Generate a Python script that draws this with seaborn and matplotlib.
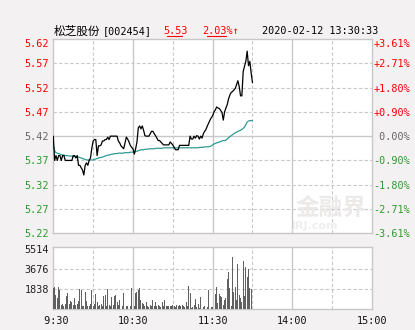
import numpy as np
import pandas as pd
import seaborn as sns
import matplotlib
matplotlib.use("Agg")
import matplotlib.pyplot as plt
from matplotlib.lines import Line2D

# ---------------- data ----------------
title_name = "松芝股份"
title_code = "[002454]"
last_price = "5.53"
change_pct = "2.03%↑"
timestamp = "2020-02-12 13:30:33"

price = [
    5.420, 5.370, 5.380, 5.370, 5.380, 5.380, 5.370, 5.380, 5.380, 5.370,
    5.370, 5.370, 5.370, 5.370, 5.370, 5.380, 5.380, 5.375, 5.380, 5.360,
    5.360, 5.355, 5.350, 5.340, 5.360, 5.365, 5.360, 5.370, 5.375, 5.395,
    5.410, 5.413, 5.413, 5.380, 5.400, 5.400, 5.402, 5.410, 5.410, 5.413,
    5.413, 5.418, 5.413, 5.420, 5.420, 5.420, 5.420, 5.420, 5.420, 5.410,
    5.406, 5.400, 5.397, 5.394, 5.406, 5.418, 5.414, 5.408, 5.401, 5.397,
    5.394, 5.383, 5.394, 5.408, 5.437, 5.441, 5.435, 5.441, 5.432, 5.421,
    5.420, 5.420, 5.420, 5.425, 5.430, 5.430, 5.425, 5.421, 5.416, 5.411,
    5.411, 5.408, 5.405, 5.402, 5.402, 5.402, 5.402, 5.402, 5.408, 5.405,
    5.402, 5.397, 5.392, 5.392, 5.392, 5.401, 5.401, 5.401, 5.401, 5.401,
    5.401, 5.401, 5.401, 5.420, 5.414, 5.414, 5.420, 5.416, 5.421, 5.420,
    5.414, 5.420, 5.416, 5.425, 5.430, 5.434, 5.441, 5.447, 5.453, 5.458,
    5.462, 5.470, 5.474, 5.480, 5.478, 5.477, 5.473, 5.469, 5.453, 5.470,
    5.478, 5.485, 5.497, 5.505, 5.510, 5.512, 5.515, 5.518, 5.526, 5.534,
    5.522, 5.503, 5.503, 5.553, 5.564, 5.574, 5.595, 5.565, 5.574, 5.550,
    5.530,
]

avg_price = [
    5.402, 5.390, 5.386, 5.385, 5.384, 5.383, 5.382, 5.381, 5.381, 5.380,
    5.380, 5.380, 5.379, 5.379, 5.379, 5.378, 5.378, 5.378, 5.378, 5.377,
    5.376, 5.375, 5.374, 5.373, 5.372, 5.371, 5.371, 5.371, 5.371, 5.371,
    5.371, 5.372, 5.373, 5.374, 5.375, 5.376, 5.376, 5.377, 5.378, 5.379,
    5.380, 5.381, 5.381, 5.382, 5.383, 5.383, 5.384, 5.384, 5.384, 5.385,
    5.385, 5.385, 5.385, 5.385, 5.386, 5.386, 5.386, 5.386, 5.387, 5.387,
    5.387, 5.387, 5.388, 5.389, 5.390, 5.391, 5.392, 5.392, 5.392, 5.393,
    5.393, 5.393, 5.394, 5.394, 5.394, 5.394, 5.394, 5.395, 5.395, 5.395,
    5.395, 5.395, 5.395, 5.396, 5.396, 5.396, 5.396, 5.396, 5.396, 5.396,
    5.396, 5.396, 5.396, 5.396, 5.396, 5.396, 5.396, 5.396, 5.396, 5.396,
    5.396, 5.396, 5.396, 5.396, 5.396, 5.396, 5.396, 5.396, 5.396, 5.396,
    5.397, 5.397, 5.397, 5.397, 5.398, 5.398, 5.398, 5.398, 5.399, 5.400,
    5.402, 5.404, 5.405, 5.406, 5.407, 5.408, 5.409, 5.410, 5.411, 5.411,
    5.412, 5.414, 5.417, 5.419, 5.421, 5.423, 5.425, 5.427, 5.428, 5.430,
    5.431, 5.432, 5.434, 5.436, 5.439, 5.444, 5.449, 5.451, 5.452, 5.452,
    5.452,
]

volume = [
    1950, 2050, 1300, 1000, 2050, 1700, 400, 500, 300, 450,
    1200, 1500, 500, 700, 600, 350, 1050, 400, 500, 750,
    1850, 1700, 300, 300, 1550, 700, 300, 300, 500, 1700,
    250, 500, 1400, 600, 300, 400, 500, 300, 1200, 1250,
    300, 1850, 400, 250, 1100, 350, 1150, 1250, 600, 400,
    800, 670, 300, 1440, 430, 250, 250, 400, 250, 1960,
    1130, 300, 1440, 1530, 1750, 1900, 830, 520, 430, 300,
    670, 250, 200, 400, 250, 830, 300, 670, 250, 400,
    300, 200, 670, 300, 830, 300, 250, 300, 300, 250,
    400, 300, 200, 350, 300, 400, 250, 350, 300, 200,
    610, 250, 2100, 1440, 120, 200, 350, 900, 200, 430,
    120, 1130, 280, 200, 280, 280, 200, 1750, 200, 150,
    150, 5514, 1350, 2050, 520, 1350, 1230, 1130, 370, 830,
    1040, 2750, 3370, 1900, 300, 4800, 1590, 2050, 830, 4100,
    1290, 980, 670, 4400, 1200, 3900, 2900, 3700, 1900, 1800,
]

price_ticks = [5.22, 5.27, 5.32, 5.37, 5.42, 5.47, 5.52, 5.57, 5.62]
price_tick_labels = ["5.22", "5.27", "5.32", "5.37", "5.42", "5.47", "5.52", "5.57", "5.62"]
pct_tick_labels = ["-3.61%", "-2.71%", "-1.80%", "-0.90%", " 0.00%", "+0.90%", "+1.80%", "+2.71%", "+3.61%"]
prev_close = 5.42
vol_ticks = [1838, 3676, 5514]
vol_tick_labels = ["1838", "3676", "5514"]
time_ticks = [0, 60, 120, 180, 240]
time_tick_labels = [" 9:30", "10:30", "11:30", "14:00", "15:00"]

# ---------------- style ----------------
sns.set_style("white")
plt.rcParams["font.family"] = ["DejaVu Sans Mono", "Noto Sans CJK SC"]
plt.rcParams["axes.unicode_minus"] = False

BG = "#F3F1F1"
GRID = "#C8C8C8"
RED = "#FF0000"
GREEN = "#2E9A2E"
GRAY = "#666666"
FS = 7.3

fig = plt.figure(figsize=(4.15, 3.30), dpi=100, facecolor=BG)
W, H = 415.0, 330.0
ax = fig.add_axes([53.3 / W, 1 - 233.3 / H, (372 - 53.3) / W, (233.3 - 39) / H])
axv = fig.add_axes([53.3 / W, 1 - 309 / H, (372 - 53.3) / W, (309 - 247.3) / H])

minutes_p = np.arange(len(price))
dfp = pd.DataFrame({"minute": minutes_p, "price": price, "avg": avg_price})
minutes_v = np.arange(len(volume))
dfv = pd.DataFrame({"minute": minutes_v, "volume": volume})

for a in (ax, axv):
    a.set_facecolor("white")
    for s in a.spines.values():
        s.set_color(GRID)
        s.set_linewidth(1.0)
    a.set_xlim(0, 240)
    for t in [30, 90, 150, 210]:
        a.axvline(t, color=GRID, lw=0.8, ls=(0, (3, 2)), zorder=0)
    for t in [60, 120, 180]:
        a.axvline(t, color=GRID, lw=1.0, zorder=0)

# price panel
ax.set_ylim(5.22, 5.62)
for v in price_ticks[1:-1]:
    if abs(v - prev_close) < 1e-9:
        ax.axhline(v, color=GRID, lw=1.0, zorder=0)
    else:
        ax.axhline(v, color=GRID, lw=0.8, ls=(0, (3, 2)), zorder=0)

# watermark
ax.text(0.87, 0.13, "金融界", transform=ax.transAxes, ha="center", va="center",
        fontsize=17, color="#ECE9E9", family=["Noto Sans CJK SC"], fontweight="bold", zorder=1)
ax.text(0.82, 0.04, "JRJ.com", transform=ax.transAxes, ha="center", va="center",
        fontsize=8, color="#F0EDED", family=["DejaVu Sans"], fontweight="bold", zorder=1)

sns.lineplot(data=dfp, x="minute", y="avg", ax=ax, color="#2F9A94", lw=0.9,
             estimator=None, sort=False, zorder=3)
sns.lineplot(data=dfp, x="minute", y="price", ax=ax, color="black", lw=0.9,
             estimator=None, sort=False, zorder=4)

ax.set_yticks(price_ticks)
ax.set_yticklabels(price_tick_labels, fontsize=FS)
for v, lab in zip(price_ticks, ax.get_yticklabels()):
    lab.set_color(RED if v > prev_close + 1e-9 else (GREEN if v < prev_close - 1e-9 else GRAY))
ax.get_yticklabels()[-1].set_va("top")
ax.tick_params(axis="y", length=0, pad=3)
ax.set_xticks([])
ax.set_xlabel("")
ax.set_ylabel("")

ax2 = ax.twinx()
ax2.set_ylim(5.22, 5.62)
ax2.set_yticks(price_ticks)
ax2.set_yticklabels(pct_tick_labels, fontsize=FS)
for v, lab in zip(price_ticks, ax2.get_yticklabels()):
    lab.set_color(RED if v > prev_close + 1e-9 else (GREEN if v < prev_close - 1e-9 else GRAY))
ax2.get_yticklabels()[-1].set_va("top")
ax2.tick_params(axis="y", length=0, pad=1)
for s in ax2.spines.values():
    s.set_visible(False)

# volume panel
sns.histplot(data=dfv, x="minute", weights="volume", discrete=True, shrink=0.7,
             ax=axv, color="#606060", alpha=1.0, edgecolor="none", linewidth=0, zorder=3)
axv.set_ylim(0, 5514 * 1.028)
for v in vol_ticks[:-1]:
    axv.axhline(v, color=GRID, lw=0.8, ls=(0, (3, 2)), zorder=0)
axv.set_yticks(vol_ticks)
axv.set_yticklabels(vol_tick_labels, fontsize=FS, color="#222222")
axv.set_xticks(time_ticks)
axv.set_xticklabels(time_tick_labels, fontsize=FS, color="#111111")
axv.tick_params(axis="both", length=0, pad=3)
axv.tick_params(axis="x", pad=5)
axv.set_xlim(0, 240)
axv.set_xlabel("")
axv.set_ylabel("")

# header
ty = 1 - 31 / H
fig.text(54 / W, ty, title_name, fontsize=8.4, color="black", va="center", ha="left",
         family=["Noto Sans CJK SC"])
fig.text(103 / W, ty, title_code, fontsize=FS, color="black", va="center", ha="left")
fig.text(163 / W, ty, last_price, fontsize=FS, color=RED, va="center", ha="left")
fig.text(202 / W, ty, change_pct, fontsize=FS, color=RED, va="center", ha="left")
fig.text(262 / W, ty, timestamp, fontsize=FS, color="black", va="center", ha="left")
fig.add_artist(Line2D([167 / W, 182 / W], [1 - 36 / H, 1 - 36 / H], color=RED, lw=0.8))
fig.add_artist(Line2D([207 / W, 226 / W], [1 - 36 / H, 1 - 36 / H], color=RED, lw=0.8))

fig.savefig("out.png", dpi=100, facecolor=BG)
